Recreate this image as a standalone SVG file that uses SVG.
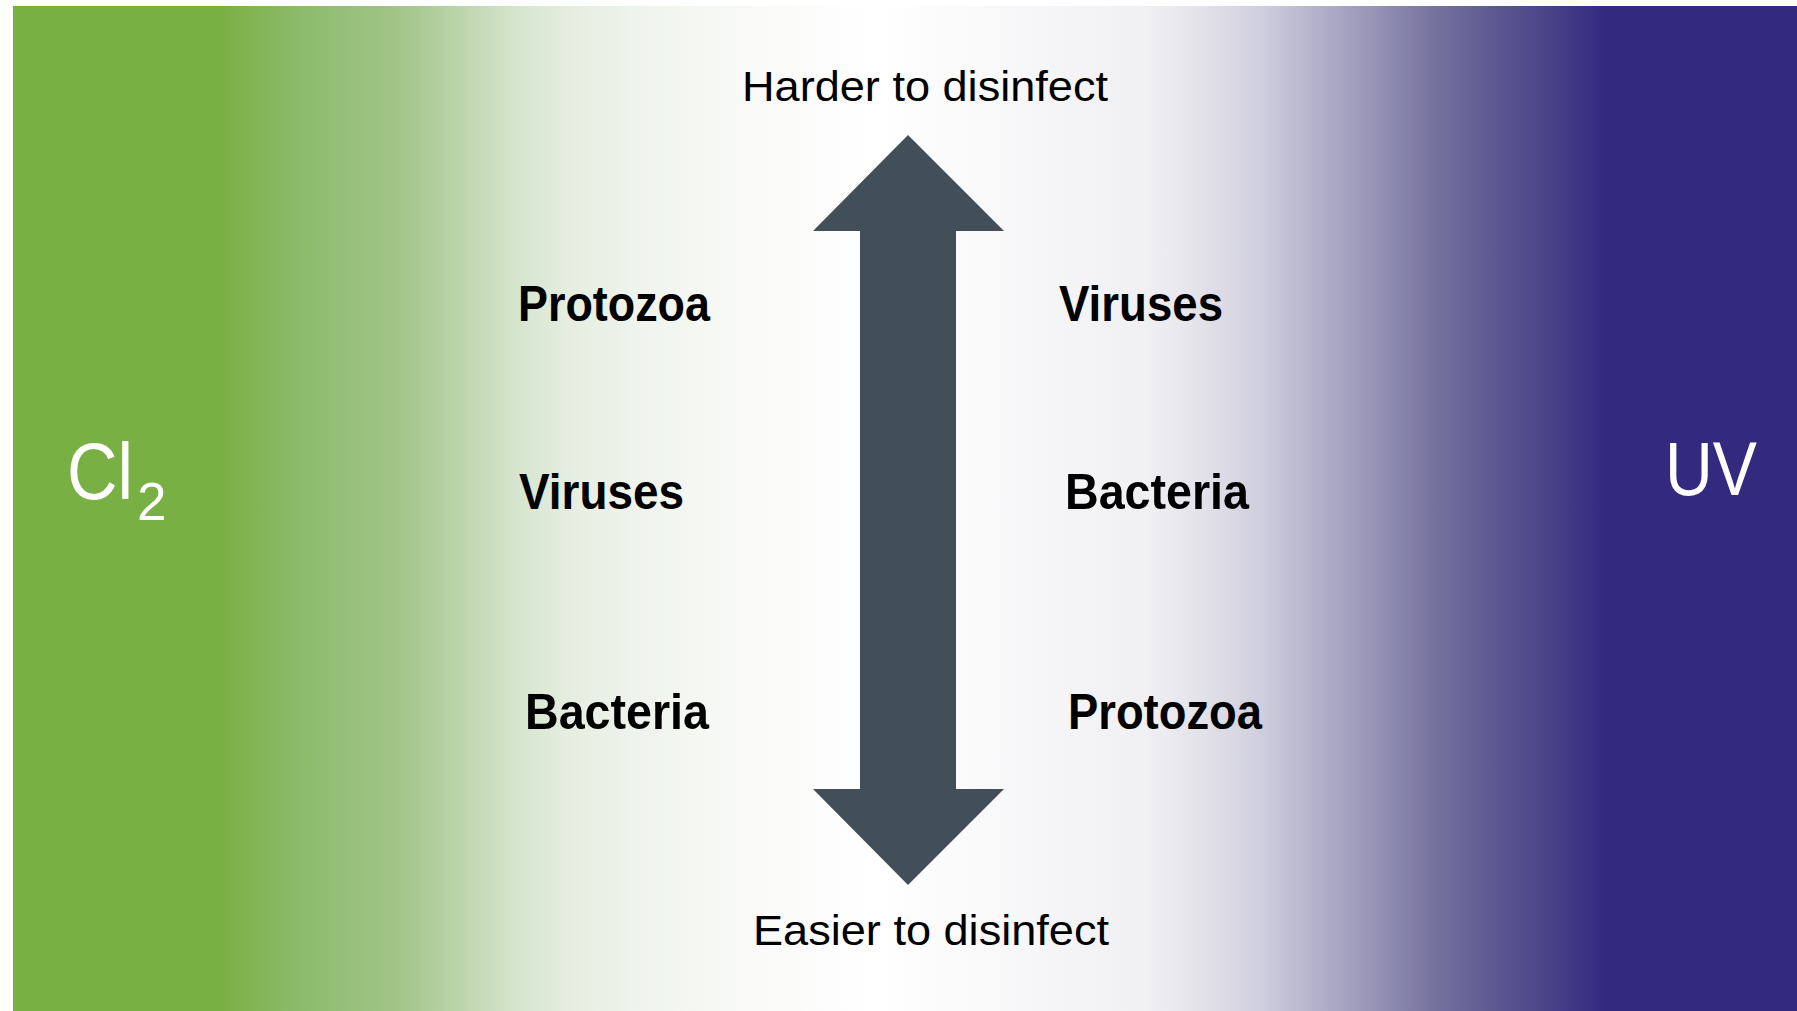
<svg xmlns="http://www.w3.org/2000/svg" width="1797" height="1011" viewBox="0 0 1797 1011">
  <defs>
    <linearGradient id="bg" gradientUnits="userSpaceOnUse" x1="0" y1="0" x2="1797" y2="0">
      <stop offset="0.1224" stop-color="#79B043"/>
      <stop offset="0.167" stop-color="#8CBB6C"/>
      <stop offset="0.223" stop-color="#A2C589"/>
      <stop offset="0.256" stop-color="#BCD5AC"/>
      <stop offset="0.287" stop-color="#D6E5CE"/>
      <stop offset="0.319" stop-color="#E6EEE1"/>
      <stop offset="0.351" stop-color="#EEF3EB"/>
      <stop offset="0.415" stop-color="#F9FAF8"/>
      <stop offset="0.49" stop-color="#FFFFFF"/>
      <stop offset="0.58" stop-color="#F6F6F8"/>
      <stop offset="0.638" stop-color="#F0F0F3"/>
      <stop offset="0.669" stop-color="#E3E2EA"/>
      <stop offset="0.702" stop-color="#CFCEDD"/>
      <stop offset="0.733" stop-color="#B3B1CA"/>
      <stop offset="0.765" stop-color="#9693B5"/>
      <stop offset="0.797" stop-color="#77739F"/>
      <stop offset="0.829" stop-color="#5F5A92"/>
      <stop offset="0.861" stop-color="#4A4389"/>
      <stop offset="0.893" stop-color="#332A80"/>
    </linearGradient>
    <style>
      .lbl { font-family: "Liberation Sans", Arial, sans-serif; font-weight: bold; font-size: 50px; fill: #000; }
      .cap { font-family: "Liberation Sans", Arial, sans-serif; font-size: 42px; fill: #000; }
      .big { font-family: "Liberation Sans", Arial, sans-serif; fill: #FFF; }
    </style>
  </defs>
  <rect x="0" y="0" width="1797" height="1011" fill="#FFFFFF"/>
  <rect id="background" x="13" y="6" width="1784" height="1005" fill="url(#bg)"/>
  <rect x="0" y="0" width="1605" height="6" fill="#FFFFFF"/>
  <rect x="0" y="6" width="13" height="1" fill="#FFFFFF"/>

  <g id="connectors">
    <polygon id="double-arrow" fill="#434F58" points="908,135 1004,231 956,231 956,789 1004,789 908,885 813,789 860,789 860,231 813,231"/>
  </g>

  <g id="cl2"><text class="big" x="67" y="499" font-size="80"><tspan textLength="66" lengthAdjust="spacingAndGlyphs">Cl</tspan><tspan x="137" y="520" font-size="53">2</tspan></text></g>
  <g id="uv"><text class="big" x="1665" y="495" font-size="76" textLength="92" lengthAdjust="spacingAndGlyphs">UV</text></g>

  <g id="harder"><text class="cap" x="742" y="101" textLength="366" lengthAdjust="spacingAndGlyphs">Harder to disinfect</text></g>
  <g id="easier"><text class="cap" x="753" y="945" textLength="356" lengthAdjust="spacingAndGlyphs">Easier to disinfect</text></g>

  <g id="cl2-protozoa"><text class="lbl" x="518" y="321" textLength="192" lengthAdjust="spacingAndGlyphs">Protozoa</text></g>
  <g id="cl2-viruses"><text class="lbl" x="519" y="509" textLength="165" lengthAdjust="spacingAndGlyphs">Viruses</text></g>
  <g id="cl2-bacteria"><text class="lbl" x="525" y="729" textLength="184" lengthAdjust="spacingAndGlyphs">Bacteria</text></g>

  <g id="uv-viruses"><text class="lbl" x="1059" y="321" textLength="164" lengthAdjust="spacingAndGlyphs">Viruses</text></g>
  <g id="uv-bacteria"><text class="lbl" x="1065" y="509" textLength="184" lengthAdjust="spacingAndGlyphs">Bacteria</text></g>
  <g id="uv-protozoa"><text class="lbl" x="1068" y="729" textLength="194" lengthAdjust="spacingAndGlyphs">Protozoa</text></g>
</svg>
